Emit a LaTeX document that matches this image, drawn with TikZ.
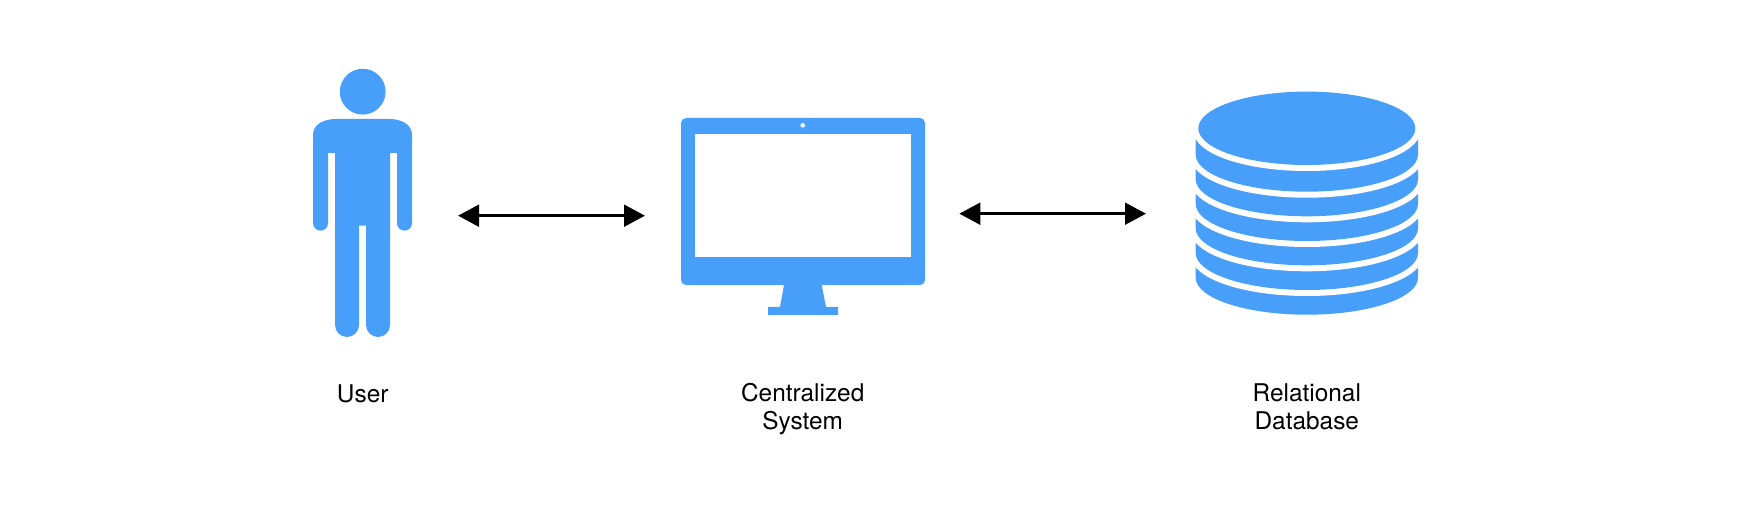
\documentclass[tikz,border=0pt]{standalone}
\usepackage{fontspec}
\setmainfont{TeX Gyre Heros}
\usetikzlibrary{arrows.meta}
\definecolor{iconblue}{HTML}{489FFA}
\tikzset{
  icon/.style={fill=iconblue,draw=none},
  hole/.style={fill=white,draw=none},
  link/.style={draw=black,line width=3.6pt,{Triangle[length=21pt,width=21.5pt]}-{Triangle[length=21pt,width=21.5pt]}},
  caption/.style={align=center,font=\fontsize{24.4}{27.6}\selectfont,inner sep=0pt,anchor=base},
  band/.style={fill=iconblue,preaction={draw=white,line width=12pt}}
}
\begin{document}
\begin{tikzpicture}[x=1pt,y=-1pt]
\useasboundingbox (0,0) rectangle (1742,518);
% user
\fill[icon] (362.7,91.7) circle[radius=22.9pt];
\fill[icon] (313,135) .. controls (313,124) and (324,119) .. (336,119)
  -- (389,119) .. controls (401,119) and (412,124) .. (412,135)
  -- (412,223.2) arc[start angle=0,end angle=180,radius=7.5]
  -- (397,153) -- (390,153) -- (390,325)
  arc[start angle=0,end angle=180,radius=12]
  -- (366,225.7) -- (359,225.7) -- (359,325)
  arc[start angle=0,end angle=180,radius=12]
  -- (335,153) -- (328,153) -- (328,223.2)
  arc[start angle=0,end angle=180,radius=7.5] -- cycle;
% monitor
\fill[icon,rounded corners=5pt] (681,118) rectangle (925,285);
\fill[hole] (695,134) rectangle (911,257);
\fill[hole] (802.7,125.3) circle[radius=2.3pt];
\fill[icon] (784,285) -- (780,307) -- (768,307) -- (768,315) -- (838,315) -- (838,307) -- (826,307) -- (821.7,285) -- cycle;
% database
\foreach \c in {277.7,253,228.3,204,179.3,154.7}{
  \path[band] (1195.7,\c-16) -- (1195.7,\c) arc[start angle=180,end angle=0,x radius=111.15,y radius=37] -- (1418,\c-16) -- cycle;
}
\path[band] (1306.8,128.3) ellipse[x radius=108.5,y radius=36.7];
% connectors
\coordinate (userR) at (458,215.7);
\coordinate (sysL) at (645,215.7);
\coordinate (sysR) at (959.3,213.7);
\coordinate (dbL) at (1146,213.7);
\draw[link] (userR) -- (sysL);
\draw[link] (sysR) -- (dbL);
% labels
\node[caption] (userlabel) at (362.7,402) {User};
\node[caption] (syslabel) at (802.7,429.5) {Centralized\\System};
\node[caption] (dblabel) at (1306.8,429.5) {Relational\\Database};
\end{tikzpicture}
\end{document}
